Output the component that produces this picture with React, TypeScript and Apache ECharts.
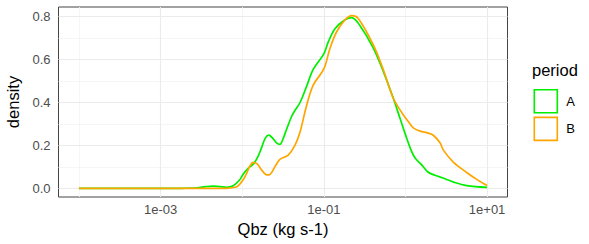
import React, { useEffect, useRef } from "react";
import * as echarts from "echarts";

// log10 of Qbz (kg s-1) and density, period A
const log10QbzA = [
  -4.0, -3.5, -3.0, -2.75, -2.55, -2.45, -2.36, -2.27, -2.19, -2.11, -2.03, -1.99, -1.93, -1.865,
  -1.81, -1.76, -1.715, -1.673, -1.63, -1.575, -1.538, -1.495, -1.456, -1.395, -1.354, -1.293,
  -1.211, -1.13, -1.0, -0.946, -0.864, -0.762, -0.66, -0.558, -0.395, -0.272, -0.15, -0.067, 0.0,
  0.06, 0.116, 0.19, 0.279, 0.36, 0.484, 0.598, 0.75, 1.0,
];
const densityA = [
  0, 0, 0, 0.0005, 0.003, 0.008, 0.011, 0.008, 0.005, 0.012, 0.04, 0.065, 0.092, 0.112,
  0.145, 0.192, 0.235, 0.248, 0.235, 0.21, 0.205, 0.235, 0.275, 0.334, 0.362, 0.398,
  0.474, 0.553, 0.625, 0.68, 0.742, 0.778, 0.794, 0.757, 0.653, 0.544, 0.42, 0.326, 0.25,
  0.186, 0.142, 0.113, 0.075, 0.061, 0.045, 0.028, 0.013, 0.005,
];

// period B
const log10QbzB = [
  -4.0, -3.0, -2.5, -2.2, -2.1, -2.05, -1.988, -1.94, -1.906, -1.865, -1.82, -1.76, -1.7, -1.66,
  -1.6, -1.538, -1.436, -1.354, -1.293, -1.211, -1.13, -1.0, -0.925, -0.843, -0.741, -0.66,
  -0.578, -0.395, -0.272, -0.15, -0.027, 0.05, 0.1, 0.178, 0.279, 0.341, 0.423, 0.463, 0.586,
  0.75, 0.873, 1.0,
];
const densityB = [
  0, 0, 0, 0.0005, 0.004, 0.012, 0.04, 0.075, 0.104, 0.121, 0.115, 0.085, 0.063, 0.065,
  0.1, 0.135, 0.155, 0.2, 0.26, 0.385, 0.48, 0.555, 0.65, 0.728, 0.783, 0.803,
  0.79, 0.668, 0.552, 0.42, 0.342, 0.303, 0.28, 0.266, 0.257, 0.247, 0.212, 0.179, 0.122,
  0.074, 0.042, 0.013,
];

const seriesNames = ["A", "B"];
const seriesColors = ["#00EE00", "#FFA500"];

const xMajorTicks = [-3, -1, 1];
const xMinorTicks = [-4, -2, 0];
const yMajorTicks = [0, 0.2, 0.4, 0.6, 0.8];
const yMinorTicks = [0.1, 0.3, 0.5, 0.7];

const FONT = "'Liberation Sans', Arial, sans-serif";

function fmtExp(v: number): string {
  const e = Math.round(v);
  const sign = e < 0 ? "-" : "+";
  const a = Math.abs(e);
  return "1e" + sign + (a < 10 ? "0" + a : String(a));
}

export default function App() {
  const ref = useRef<HTMLDivElement>(null);

  useEffect(() => {
    if (!ref.current) return;
    const chart = echarts.init(ref.current, null, { renderer: "svg" });

    const gridLine = (axis: "xAxis" | "yAxis", vals: number[], color: string, width: number) =>
      vals.map((v) => ({
        [axis]: v,
        lineStyle: { color, width, type: "solid" as const },
      }));

    const makePairs = (xs: number[], ys: number[]) => xs.map((x, i) => [x, ys[i]]);

    chart.setOption({
      animation: false,
      backgroundColor: "#ffffff",
      textStyle: { fontFamily: FONT },
      title: {
        text: "period",
        left: 532,
        top: 61,
        padding: 0,
        textStyle: { fontSize: 16.5, fontWeight: "normal", color: "#000000", fontFamily: FONT },
      },
      legend: {
        data: seriesNames.map((n, i) => ({
          name: n,
          icon: "rect",
          itemStyle: { color: "rgba(255,255,255,0)", borderColor: seriesColors[i], borderWidth: 1.6 },
        })),
        orient: "vertical",
        left: 533.5,
        top: 89,
        padding: 0,
        itemWidth: 23,
        itemHeight: 23,
        itemGap: 3,
        textStyle: { fontSize: 13, color: "#000000", fontFamily: FONT, padding: [0, 0, 0, 4] },
      },
      grid: {
        left: 58.5,
        top: 7,
        width: 449,
        height: 190,
        show: true,
        borderColor: "#444444",
        borderWidth: 1,
        backgroundColor: "#ffffff",
        containLabel: false,
        outerBoundsMode: "none",
      },
      xAxis: {
        type: "value",
        min: -4.25,
        max: 1.25,
        name: "Qbz (kg s-1)",
        nameLocation: "middle",
        nameGap: 23.5,
        nameTextStyle: { fontSize: 16.5, color: "#000000", fontFamily: FONT },
        axisLine: { show: false },
        axisTick: {
          show: true,
          customValues: xMajorTicks,
          length: 4.5,
          lineStyle: { color: "#333333", width: 1 },
        },
        axisLabel: {
          customValues: xMajorTicks,
          formatter: (v: number) => fmtExp(v),
          fontSize: 13,
          color: "#4D4D4D",
          margin: 6,
          fontFamily: FONT,
        },
        splitLine: { show: false },
      },
      yAxis: {
        type: "value",
        min: -0.04,
        max: 0.843,
        name: "density",
        nameLocation: "middle",
        nameRotate: 90,
        nameGap: 31.5,
        nameTextStyle: { fontSize: 16.5, color: "#000000", fontFamily: FONT },
        axisLine: { show: false },
        axisTick: {
          show: true,
          customValues: yMajorTicks,
          length: 4.5,
          lineStyle: { color: "#333333", width: 1 },
        },
        axisLabel: {
          customValues: yMajorTicks,
          formatter: (v: number) => v.toFixed(1),
          fontSize: 13,
          color: "#4D4D4D",
          margin: 8,
          fontFamily: FONT,
        },
        splitLine: { show: false },
      },
      series: [
        {
          name: "_grid",
          type: "line",
          z: 1,
          silent: true,
          symbol: "none",
          data: [[log10QbzA[0], densityA[0]]],
          lineStyle: { opacity: 0, width: 0 },
          markLine: {
            z: 1,
            silent: true,
            symbol: ["none", "none"],
            label: { show: false },
            emphasis: { disabled: true },
            animation: false,
            data: [
              ...gridLine("xAxis", xMinorTicks, "#F4F4F4", 0.8),
              ...gridLine("yAxis", yMinorTicks, "#F4F4F4", 0.8),
              ...gridLine("xAxis", xMajorTicks, "#EBEBEB", 1.1),
              ...gridLine("yAxis", yMajorTicks, "#EBEBEB", 1.1),
            ],
          },
        },
        {
          name: seriesNames[0],
          type: "line",
          z: 3,
          data: makePairs(log10QbzA, densityA),
          smooth: 0.35,
          showSymbol: false,
          symbol: "none",
          lineStyle: { color: seriesColors[0], width: 1.7 },
          itemStyle: { color: seriesColors[0] },
        },
        {
          name: seriesNames[1],
          type: "line",
          z: 4,
          data: makePairs(log10QbzB, densityB),
          smooth: 0.35,
          showSymbol: false,
          symbol: "none",
          lineStyle: { color: seriesColors[1], width: 1.7 },
          itemStyle: { color: seriesColors[1] },
        },
      ],
    });

    return () => chart.dispose();
  }, []);

  return (
    <div
      ref={ref}
      style={{ position: "fixed", left: 0, top: 0, width: 589, height: 244 }}
    />
  );
}
